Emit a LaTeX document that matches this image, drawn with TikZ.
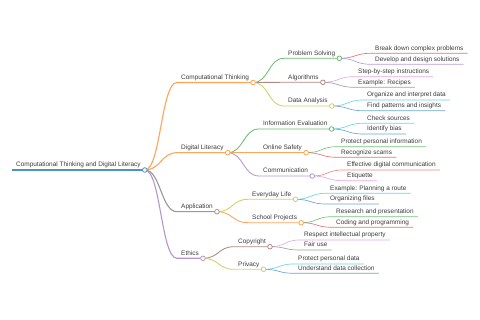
\documentclass[tikz,border=0pt]{standalone}
\usepackage{fontspec}
\setmainfont{Liberation Sans}
\usepackage{xcolor}
\definecolor{mblue}{HTML}{1F77B4}
\definecolor{morange}{HTML}{FF7F0E}
\definecolor{mgreen}{HTML}{2CA02C}
\definecolor{mred}{HTML}{D62728}
\definecolor{mpurple}{HTML}{9467BD}
\definecolor{mbrown}{HTML}{8C564B}
\definecolor{mpink}{HTML}{E377C2}
\definecolor{mgray}{HTML}{7F7F7F}
\definecolor{molive}{HTML}{BCBD22}
\definecolor{mcyan}{HTML}{17BECF}
\definecolor{mtext}{HTML}{3A3A3A}

\begin{document}
\begin{tikzpicture}[x=1pt, y=-1pt,
  topic/.style={anchor=south west, inner xsep=4pt, inner ysep=2.8pt,
  text height=4.7pt, text depth=0pt, font=\fontsize{6.45}{7}\selectfont, text=mtext},
  dot/.style={circle, fill=white, inner sep=0pt, minimum size=4.6pt, line width=0.8pt},
  lv0/.style={line width=1.5pt, mblue!80},
  lv1/.style={line width=1.1pt},
  lv2/.style={line width=0.85pt},
  lv3/.style={line width=0.65pt}
]
\useasboundingbox (0,0) rectangle (480,320);

% nodes
\node[topic] (root) at (12,170) {Computational Thinking and Digital Literacy};
\node[topic] (ct)   at (177,82.5)  {Computational Thinking};
\node[topic] (dl)   at (177,152.7) {Digital Literacy};
\node[topic] (app)  at (177,211.7) {Application};
\node[topic] (eth)  at (177,258.3) {Ethics};
\node[topic] (ps)   at (284,58.3)  {Problem Solving};
\node[topic] (alg)  at (284,82.3)  {Algorithms};
\node[topic] (da)   at (284,106)   {Data Analysis};
\node[topic] (ie)   at (259,129)   {Information Evaluation};
\node[topic] (os)   at (259,152.7) {Online Safety};
\node[topic] (com)  at (259,176)   {Communication};
\node[topic] (el)   at (248,199.3) {Everyday Life};
\node[topic] (sp)   at (248,222.7) {School Projects};
\node[topic] (cop)  at (234,246.7) {Copyright};
\node[topic] (priv) at (234,269.3) {Privacy};
\node[topic] (bd)   at (371,53.3)  {Break down complex problems};
\node[topic] (dev)  at (371,64.3)  {Develop and design solutions};
\node[topic] (sbs)  at (354,76.7)  {Step-by-step instructions};
\node[topic] (rec)  at (354,87.3)  {Example: Recipes};
\node[topic] (org)  at (363,100)   {Organize and interpret data};
\node[topic] (fnd)  at (363,110.7) {Find patterns and insights};
\node[topic] (chk)  at (363,123.3) {Check sources};
\node[topic] (bias) at (363,134)   {Identify bias};
\node[topic] (ppi)  at (337,146.7) {Protect personal information};
\node[topic] (scam) at (337,157.3) {Recognize scams};
\node[topic] (eff)  at (343,170)   {Effective digital communication};
\node[topic] (eti)  at (343,180.7) {Etiquette};
\node[topic] (route) at (326,193.3) {Example: Planning a route};
\node[topic] (files) at (326,204)   {Organizing files};
\node[topic] (res)  at (332,216.7) {Research and presentation};
\node[topic] (code) at (332,227.3) {Coding and programming};
\node[topic] (resp) at (300,240)   {Respect intellectual property};
\node[topic] (fair) at (300,250)   {Fair use};
\node[topic] (ppd)  at (294,264)   {Protect personal data};
\node[topic] (und)  at (294,273.3) {Understand data collection};

% root line
\draw[lv0] (root.south west) -- (root.south east);

% level 1
\draw[lv1, morange!70] (root.south east) .. controls +(16,0) and +(-16,0) .. (ct.south west) -- (ct.south east);
\draw[lv1, morange!70] (root.south east) .. controls +(16,0) and +(-16,0) .. (dl.south west) -- (dl.south east);
\draw[lv1, mgray!80] (root.south east) .. controls +(16,0) and +(-16,0) .. (app.south west) -- (app.south east);
\draw[lv1, mpurple!70] (root.south east) .. controls +(16,0) and +(-16,0) .. (eth.south west) -- (eth.south east);

% level 2
\draw[lv2, mgreen!70] (ct.south east) .. controls +(16,0) and +(-16,0) .. (ps.south west) -- (ps.south east);
\draw[lv2, mbrown!70] (ct.south east) .. controls +(16,0) and +(-16,0) .. (alg.south west) -- (alg.south east);
\draw[lv2, molive!70] (ct.south east) .. controls +(16,0) and +(-16,0) .. (da.south west) -- (da.south east);
\draw[lv2, mgreen!70] (dl.south east) .. controls +(16,0) and +(-16,0) .. (ie.south west) -- (ie.south east);
\draw[lv2, morange!70] (dl.south east) .. controls +(16,0) and +(-16,0) .. (os.south west) -- (os.south east);
\draw[lv2, mpurple!70] (dl.south east) .. controls +(16,0) and +(-16,0) .. (com.south west) -- (com.south east);
\draw[lv2, molive!70] (app.south east) .. controls +(16,0) and +(-16,0) .. (el.south west) -- (el.south east);
\draw[lv2, morange!70] (app.south east) .. controls +(16,0) and +(-16,0) .. (sp.south west) -- (sp.south east);
\draw[lv2, mbrown!70] (eth.south east) .. controls +(16,0) and +(-16,0) .. (cop.south west) -- (cop.south east);
\draw[lv2, molive!70] (eth.south east) .. controls +(16,0) and +(-16,0) .. (priv.south west) -- (priv.south east);

% level 3
\draw[lv3, mred!65] (ps.south east) .. controls +(16,0) and +(-16,0) .. (bd.south west) -- (bd.south east);
\draw[lv3, mpurple!65] (ps.south east) .. controls +(16,0) and +(-16,0) .. (dev.south west) -- (dev.south east);
\draw[lv3, mpink!65] (alg.south east) .. controls +(16,0) and +(-16,0) .. (sbs.south west) -- (sbs.south east);
\draw[lv3, mgray!75] (alg.south east) .. controls +(16,0) and +(-16,0) .. (rec.south west) -- (rec.south east);
\draw[lv3, mcyan!65] (da.south east) .. controls +(16,0) and +(-16,0) .. (org.south west) -- (org.south east);
\draw[lv3, mblue!65] (da.south east) .. controls +(16,0) and +(-16,0) .. (fnd.south west) -- (fnd.south east);
\draw[lv3, mcyan!65] (ie.south east) .. controls +(16,0) and +(-16,0) .. (chk.south west) -- (chk.south east);
\draw[lv3, mblue!65] (ie.south east) .. controls +(16,0) and +(-16,0) .. (bias.south west) -- (bias.south east);
\draw[lv3, mgreen!65] (os.south east) .. controls +(16,0) and +(-16,0) .. (ppi.south west) -- (ppi.south east);
\draw[lv3, mred!65] (os.south east) .. controls +(16,0) and +(-16,0) .. (scam.south west) -- (scam.south east);
\draw[lv3, mred!55] (com.south east) .. controls +(16,0) and +(-16,0) .. (eff.south west) -- (eff.south east);
\draw[lv3, mpink!65] (com.south east) .. controls +(16,0) and +(-16,0) .. (eti.south west) -- (eti.south east);
\draw[lv3, mcyan!65] (el.south east) .. controls +(16,0) and +(-16,0) .. (route.south west) -- (route.south east);
\draw[lv3, mblue!65] (el.south east) .. controls +(16,0) and +(-16,0) .. (files.south west) -- (files.south east);
\draw[lv3, mgreen!65] (sp.south east) .. controls +(16,0) and +(-16,0) .. (res.south west) -- (res.south east);
\draw[lv3, mred!65] (sp.south east) .. controls +(16,0) and +(-16,0) .. (code.south west) -- (code.south east);
\draw[lv3, mpink!65] (cop.south east) .. controls +(16,0) and +(-16,0) .. (resp.south west) -- (resp.south east);
\draw[lv3, mgray!75] (cop.south east) .. controls +(16,0) and +(-16,0) .. (fair.south west) -- (fair.south east);
\draw[lv3, mcyan!65] (priv.south east) .. controls +(16,0) and +(-16,0) .. (ppd.south west) -- (ppd.south east);
\draw[lv3, mblue!65] (priv.south east) .. controls +(16,0) and +(-16,0) .. (und.south west) -- (und.south east);

% open circles on branching topics
\node[dot, draw=mblue!80]   (rootdot) at (root.south east) {};
\node[dot, draw=morange!70] (ctdot)   at (ct.south east) {};
\node[dot, draw=morange!70] (dldot)   at (dl.south east) {};
\node[dot, draw=mgray!80]   (appdot)  at (app.south east) {};
\node[dot, draw=mpurple!70] (ethdot)  at (eth.south east) {};
\node[dot, draw=mgreen!70]  (psdot)   at (ps.south east) {};
\node[dot, draw=mbrown!70]  (algdot)  at (alg.south east) {};
\node[dot, draw=molive!70]  (dadot)   at (da.south east) {};
\node[dot, draw=mgreen!70]  (iedot)   at (ie.south east) {};
\node[dot, draw=morange!70] (osdot)   at (os.south east) {};
\node[dot, draw=mpurple!70] (comdot)  at (com.south east) {};
\node[dot, draw=molive!70]  (eldot)   at (el.south east) {};
\node[dot, draw=morange!70] (spdot)   at (sp.south east) {};
\node[dot, draw=mbrown!70]  (copdot)  at (cop.south east) {};
\node[dot, draw=molive!70]  (privdot) at (priv.south east) {};
\end{tikzpicture}
\end{document}
